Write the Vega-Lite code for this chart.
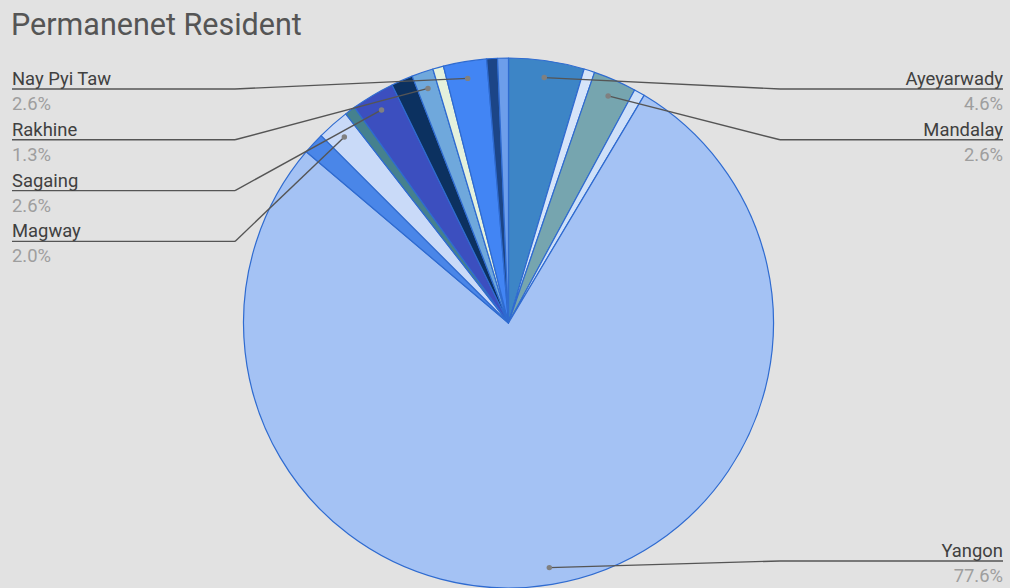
{
  "$schema": "https://vega.github.io/schema/vega-lite/v6.json",
  "width": 1010,
  "height": 544,
  "autosize": {"type": "none"},
  "padding": {"left": 0, "right": 0, "top": 44, "bottom": 0},
  "background": "#e2e2e2",
  "config": {"view": {"stroke": null}, "font": "Roboto"},
  "title": {
    "text": "Permanenet Resident",
    "anchor": "start",
    "frame": "group",
    "orient": "top",
    "baseline": "alphabetic",
    "offset": 9,
    "dx": 11,
    "dy": 30,
    "fontSize": 30.5,
    "fontWeight": "normal",
    "font": "Roboto",
    "color": "#555555"
  },
  "datasets": {
    "slices": [
      {"idx": 1, "region": "Ayeyarwady", "count": 7},
      {"idx": 2, "region": "Mon", "count": 1},
      {"idx": 3, "region": "Mandalay", "count": 4},
      {"idx": 4, "region": "Kayin", "count": 1},
      {"idx": 5, "region": "Yangon", "count": 118},
      {"idx": 6, "region": "Bago", "count": 2},
      {"idx": 7, "region": "Magway", "count": 3},
      {"idx": 8, "region": "Chin", "count": 1},
      {"idx": 9, "region": "Sagaing", "count": 4},
      {"idx": 10, "region": "Shan", "count": 2},
      {"idx": 11, "region": "Rakhine", "count": 2},
      {"idx": 12, "region": "Kachin", "count": 1},
      {"idx": 13, "region": "Nay Pyi Taw", "count": 4},
      {"idx": 14, "region": "Tanintharyi", "count": 1},
      {"idx": 15, "region": "Kayah", "count": 1}
    ],
    "labels": [
      {"region": "Nay Pyi Taw", "side": "left", "row": 0},
      {"region": "Rakhine", "side": "left", "row": 1},
      {"region": "Sagaing", "side": "left", "row": 2},
      {"region": "Magway", "side": "left", "row": 3},
      {"region": "Ayeyarwady", "side": "right", "row": 0},
      {"region": "Mandalay", "side": "right", "row": 1},
      {"region": "Yangon", "side": "right", "row": 9.29}
    ]
  },
  "data": {"name": "slices"},
  "transform": [
    {"window": [{"op": "sum", "field": "count", "as": "cum"}], "sort": [{"field": "idx"}]},
    {"joinaggregate": [{"op": "sum", "field": "count", "as": "total"}]},
    {"calculate": "datum.count / datum.total", "as": "share"},
    {"calculate": "2 * PI * (datum.cum - datum.count / 2) / datum.total", "as": "mid"},
    {"calculate": "508.5 + 248 * sin(datum.mid)", "as": "ax"},
    {"calculate": "323 - 248 * cos(datum.mid)", "as": "ay"},
    {"lookup": "region", "from": {"data": {"name": "labels"}, "key": "region", "fields": ["side", "row"]}},
    {"calculate": "89 + datum.row * 50.8", "as": "ly"},
    {"calculate": "datum.side == 'left' ? 12 : 1003", "as": "ex"},
    {"calculate": "datum.side == 'left' ? 235 : 780", "as": "bx"}
  ],
  "layer": [
    {
      "mark": {"type": "arc", "outerRadius": 265, "stroke": "#2f6bd0", "strokeWidth": 1.2, "strokeJoin": "round"},
      "encoding": {
        "theta": {"field": "count", "type": "quantitative", "stack": true},
        "order": {"field": "idx", "type": "quantitative"},
        "color": {
          "field": "region",
          "type": "nominal",
          "legend": null,
          "scale": {
            "domain": ["Ayeyarwady", "Mon", "Mandalay", "Kayin", "Yangon", "Bago", "Magway", "Chin", "Sagaing", "Shan", "Rakhine", "Kachin", "Nay Pyi Taw", "Tanintharyi", "Kayah"],
            "range": ["#3d85c6", "#d6e4f9", "#76a5af", "#cfe0f8", "#a4c2f4", "#4a86e8", "#c9daf8", "#45818e", "#3c4fbf", "#0c3160", "#6fa8dc", "#e4f1dc", "#4285f4", "#1c4587", "#6d9eeb"]
          }
        },
        "x": {"datum": 508.5, "type": "quantitative", "axis": null, "scale": {"domain": [0, 1010], "nice": false, "zero": false}},
        "y": {"datum": 323, "type": "quantitative", "axis": null, "scale": {"domain": [44, 588], "reverse": true, "nice": false, "zero": false}}
      }
    },
    {
      "transform": [{"filter": "datum.side != null"}],
      "mark": {"type": "rule", "color": "#555555", "strokeWidth": 1.4},
      "encoding": {
        "x": {"field": "ex", "type": "quantitative", "axis": null, "scale": {"domain": [0, 1010], "nice": false, "zero": false}},
        "x2": {"field": "bx"},
        "y": {"field": "ly", "type": "quantitative", "axis": null, "scale": {"domain": [44, 588], "reverse": true, "nice": false, "zero": false}}
      }
    },
    {
      "transform": [{"filter": "datum.side != null"}],
      "mark": {"type": "rule", "color": "#555555", "strokeWidth": 1.4},
      "encoding": {
        "x": {"field": "bx", "type": "quantitative", "axis": null, "scale": {"domain": [0, 1010], "nice": false, "zero": false}},
        "x2": {"field": "ax"},
        "y": {"field": "ly", "type": "quantitative", "axis": null, "scale": {"domain": [44, 588], "reverse": true, "nice": false, "zero": false}},
        "y2": {"field": "ay"}
      }
    },
    {
      "transform": [{"filter": "datum.side != null"}],
      "mark": {"type": "point", "filled": true, "color": "#808080", "size": 30, "opacity": 1},
      "encoding": {
        "x": {"field": "ax", "type": "quantitative", "axis": null, "scale": {"domain": [0, 1010], "nice": false, "zero": false}},
        "y": {"field": "ay", "type": "quantitative", "axis": null, "scale": {"domain": [44, 588], "reverse": true, "nice": false, "zero": false}}
      }
    },
    {
      "transform": [{"filter": "datum.side == 'left'"}],
      "mark": {"type": "text", "align": "left", "baseline": "alphabetic", "dy": -4, "fontSize": 18.4, "font": "Roboto", "color": "#404040"},
      "encoding": {
        "x": {"field": "ex", "type": "quantitative", "axis": null, "scale": {"domain": [0, 1010], "nice": false, "zero": false}},
        "y": {"field": "ly", "type": "quantitative", "axis": null, "scale": {"domain": [44, 588], "reverse": true, "nice": false, "zero": false}},
        "text": {"field": "region", "type": "nominal"}
      }
    },
    {
      "transform": [{"filter": "datum.side == 'right'"}],
      "mark": {"type": "text", "align": "right", "baseline": "alphabetic", "dy": -4, "fontSize": 18.4, "font": "Roboto", "color": "#404040"},
      "encoding": {
        "x": {"field": "ex", "type": "quantitative", "axis": null, "scale": {"domain": [0, 1010], "nice": false, "zero": false}},
        "y": {"field": "ly", "type": "quantitative", "axis": null, "scale": {"domain": [44, 588], "reverse": true, "nice": false, "zero": false}},
        "text": {"field": "region", "type": "nominal"}
      }
    },
    {
      "transform": [{"filter": "datum.side == 'left'"}],
      "mark": {"type": "text", "align": "left", "baseline": "alphabetic", "dy": 21, "fontSize": 18.4, "font": "Roboto", "color": "#9e9e9e"},
      "encoding": {
        "x": {"field": "ex", "type": "quantitative", "axis": null, "scale": {"domain": [0, 1010], "nice": false, "zero": false}},
        "y": {"field": "ly", "type": "quantitative", "axis": null, "scale": {"domain": [44, 588], "reverse": true, "nice": false, "zero": false}},
        "text": {"field": "share", "type": "quantitative", "format": ".1%"}
      }
    },
    {
      "transform": [{"filter": "datum.side == 'right'"}],
      "mark": {"type": "text", "align": "right", "baseline": "alphabetic", "dy": 21, "fontSize": 18.4, "font": "Roboto", "color": "#9e9e9e"},
      "encoding": {
        "x": {"field": "ex", "type": "quantitative", "axis": null, "scale": {"domain": [0, 1010], "nice": false, "zero": false}},
        "y": {"field": "ly", "type": "quantitative", "axis": null, "scale": {"domain": [44, 588], "reverse": true, "nice": false, "zero": false}},
        "text": {"field": "share", "type": "quantitative", "format": ".1%"}
      }
    }
  ]
}
